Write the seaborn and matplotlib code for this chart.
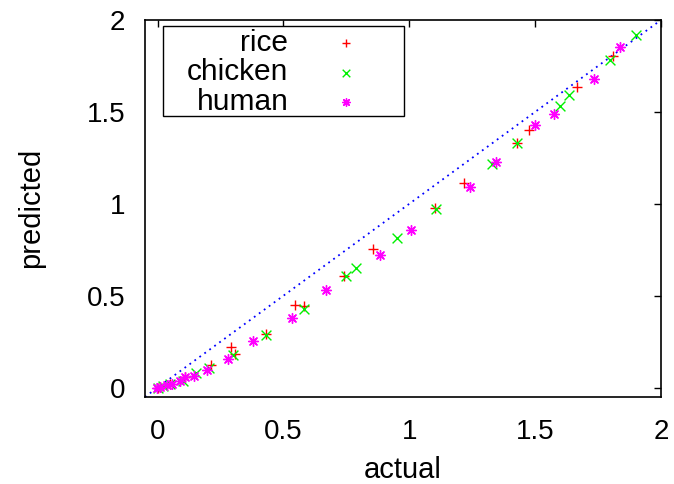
import matplotlib
matplotlib.use("Agg")
import matplotlib.pyplot as plt
from matplotlib.patches import Rectangle
import numpy as np
import pandas as pd
import seaborn as sns

# actual vs. predicted values per organism
rice_actual = [1.807, 1.664, 1.476, 1.427, 1.216, 1.100, 0.856, 0.739, 0.545, 0.583,
               0.432, 0.292, 0.309, 0.211, 0.110, 0.050, 0.010, 0.000]
rice_pred = [1.806, 1.634, 1.402, 1.328, 1.113, 0.977, 0.755, 0.605, 0.451, 0.442,
             0.290, 0.221, 0.185, 0.121, 0.060, 0.020, 0.005, 0.000]

chicken_actual = [1.901, 1.798, 1.635, 1.598, 1.427, 1.330, 1.105, 0.949, 0.790, 0.750,
                  0.580, 0.432, 0.300, 0.206, 0.154, 0.101, 0.050, 0.020, 0.000]
chicken_pred = [1.917, 1.783, 1.591, 1.533, 1.328, 1.216, 0.971, 0.814, 0.651, 0.605,
                0.428, 0.288, 0.176, 0.109, 0.078, 0.038, 0.020, 0.010, 0.000]

human_actual = [1.835, 1.735, 1.576, 1.498, 1.343, 1.240, 1.006, 0.884, 0.669, 0.533,
                0.378, 0.280, 0.198, 0.144, 0.110, 0.091, 0.058, 0.038, 0.011, -0.002]
human_pred = [1.855, 1.678, 1.488, 1.428, 1.225, 1.091, 0.859, 0.721, 0.533, 0.379,
              0.252, 0.158, 0.098, 0.064, 0.058, 0.034, 0.020, 0.013, 0.002, -0.002]

diag = [-0.05, 2.0]

x_ticks = [0, 0.5, 1, 1.5, 2]
y_ticks = [0, 0.5, 1, 1.5, 2]
x_tick_labels = ["0", "0.5", "1", "1.5", "2"]
y_tick_labels = ["0", "0.5", "1", "1.5", "2"]

sns.set_theme(style="white")
plt.rcParams["font.family"] = ["Liberation Sans", "DejaVu Sans"]
plt.rcParams["text.color"] = "black"
plt.rcParams["axes.labelcolor"] = "black"

fig = plt.figure(figsize=(6.74, 4.84), dpi=100)
ax = fig.add_axes([0.215, 0.180, 0.981 - 0.215, 0.959 - 0.180])

series = [
    ("rice", rice_actual, rice_pred, "#ff0000", "+"),
    ("chicken", chicken_actual, chicken_pred, "#00f000", "x"),
    ("human", human_actual, human_pred, "#ff00ff", (8, 2, 0)),
]
for name, xs, ys, color, marker in series:
    df = pd.DataFrame({"actual": xs, "predicted": ys})
    sns.scatterplot(data=df, x="actual", y="predicted", ax=ax, color=color,
                    marker=marker, s=50, linewidth=1.0, label=name, zorder=3)

sns.lineplot(x=diag, y=diag, ax=ax, color="#0000ff", linewidth=1.3,
             linestyle=(0, (1, 2.4)), zorder=2, legend=False)

ax.set_xlim(-0.05, 2.0)
ax.set_ylim(-0.05, 2.0)
ax.set_xticks(x_ticks)
ax.set_xticklabels(x_tick_labels)
ax.set_yticks(y_ticks)
ax.set_yticklabels(y_tick_labels)
ax.tick_params(direction="in", length=5, width=1, colors="black",
               labelsize=20, top=True, right=True)
ax.tick_params(axis="x", pad=16)
ax.tick_params(axis="y", pad=14)
for sp in ax.spines.values():
    sp.set_color("black")
    sp.set_linewidth(1.2)

ax.set_xlabel("actual", fontsize=21, labelpad=8, color="black")
ax.set_ylabel("predicted", fontsize=21, labelpad=30, color="black")

# key box with labels right-aligned against the marker samples
ax.add_patch(Rectangle((0.0349, 0.745), 0.467, 0.239, transform=ax.transAxes,
                       fill=True, facecolor="white", edgecolor="black",
                       linewidth=1.0, zorder=4))
handles, labels = ax.get_legend_handles_labels()
leg = ax.legend(handles, labels, loc="upper right", bbox_to_anchor=(0.448, 0.976),
                markerfirst=False, fontsize=21.5, frameon=False,
                handlelength=2.0, handletextpad=0.94, borderpad=0.0,
                labelspacing=0.05, borderaxespad=0)
leg.set_zorder(5)
for h in leg.legend_handles:
    h.set_sizes([30])

fig.savefig("out.png", dpi=100)
